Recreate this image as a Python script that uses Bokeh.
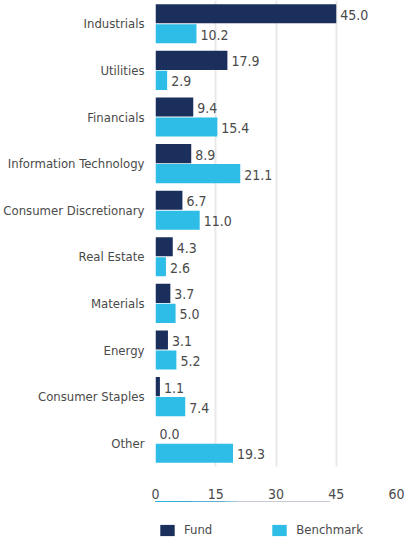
from bokeh.plotting import figure
from bokeh.layouts import column
from bokeh.models import ColumnDataSource, FactorRange, Legend, LegendItem, LabelSet
from bokeh.core.properties import value
from bokeh.transform import dodge
from bokeh.embed import file_html
from bokeh.resources import INLINE

sectors = ["Industrials", "Utilities", "Financials", "Information Technology",
           "Consumer Discretionary", "Real Estate", "Materials", "Energy",
           "Consumer Staples", "Other"]
fund = [45.0, 17.9, 9.4, 8.9, 6.7, 4.3, 3.7, 3.1, 1.1, 0.0]
benchmark = [10.2, 2.9, 15.4, 21.1, 11.0, 2.6, 5.0, 5.2, 7.4, 19.3]
x_ticks = [0, 15, 30, 45, 60]

FONT = "DejaVu Sans Condensed"
NAVY = "#1b2f5c"
CYAN = "#2ebde6"
TXT = "#4a4a4a"

src = ColumnDataSource(dict(
    sector=sectors, fund=fund, benchmark=benchmark,
    fund_lbl=[f"{v:.1f}" for v in fund],
    bench_lbl=[f"{v:.1f}" for v in benchmark],
))

p = figure(frame_width=241, frame_height=466, output_backend="svg", toolbar_location=None,
           y_range=FactorRange(factors=list(reversed(sectors)), range_padding=0),
           x_range=(0, 60), min_border_left=147, min_border_right=10,
           min_border_top=0, min_border_bottom=0)

off = 0.215
h = 0.41
p.hbar(y=dodge("sector", off, range=p.y_range), right="fund", left=0,
       height=h, fill_color=NAVY, line_color=None, source=src)
p.hbar(y=dodge("sector", -off, range=p.y_range), right="benchmark", left=0,
       height=h, fill_color=CYAN, line_color=None, source=src)

for col, lbl, o in (("fund", "fund_lbl", off), ("benchmark", "bench_lbl", -off)):
    p.add_layout(LabelSet(x=col, y=dodge("sector", o, range=p.y_range), text=lbl,
                          source=src, x_offset=4, y_offset=-1,
                          text_baseline="middle", text_font=value(FONT),
                          text_font_size=value("14px"), text_color=TXT))

p.outline_line_color = None
p.ygrid.grid_line_color = None
p.xgrid.grid_line_color = "#e8e8e8"
p.xgrid.grid_line_width = 2
p.xaxis.ticker = x_ticks
p.xaxis.axis_line_color = None
p.xaxis.major_tick_line_color = None
p.xaxis.minor_tick_line_color = None
p.xaxis.major_label_standoff = 16
p.xaxis.major_label_text_font = FONT
p.xaxis.major_label_text_font_size = "14px"
p.xaxis.major_label_text_color = TXT
p.yaxis.axis_line_color = None
p.yaxis.major_tick_line_color = None
p.yaxis.minor_tick_line_color = None
p.yaxis.major_label_standoff = 5
p.yaxis.major_label_text_font = FONT
p.yaxis.major_label_text_font_size = "13px"
p.yaxis.major_label_text_color = TXT

# legend strip (its bars lie outside the strip's view; only the legend shows)
lf = figure(width=398, height=39, output_backend="svg", toolbar_location=None,
            x_range=(0, 60), y_range=(-1000, -999),
            x_axis_location=None, y_axis_location=None,
            min_border_left=0, min_border_right=0, min_border_top=0, min_border_bottom=0)
l1 = lf.hbar(y="fund", right="fund", left=0, height=0.4,
             fill_color=NAVY, line_color=None, source=src)
l2 = lf.hbar(y="benchmark", right="benchmark", left=0, height=0.4,
             fill_color=CYAN, line_color=None, source=src)
lf.grid.grid_line_color = None
lf.outline_line_color = None

legend = Legend(items=[LegendItem(label="Fund", renderers=[l1]),
                       LegendItem(label="Benchmark", renderers=[l2])],
                orientation="horizontal", location="bottom_left",
                label_text_font=FONT, label_text_font_size="13px",
                label_text_color=TXT, glyph_width=18, glyph_height=14,
                spacing=58, padding=2, margin=3, border_line_color=None,
                background_fill_alpha=0, label_standoff=8)
lf.add_layout(legend, "center")

layout = column(p, lf, spacing=0)
open("out.html", "w").write(file_html(layout, INLINE))
